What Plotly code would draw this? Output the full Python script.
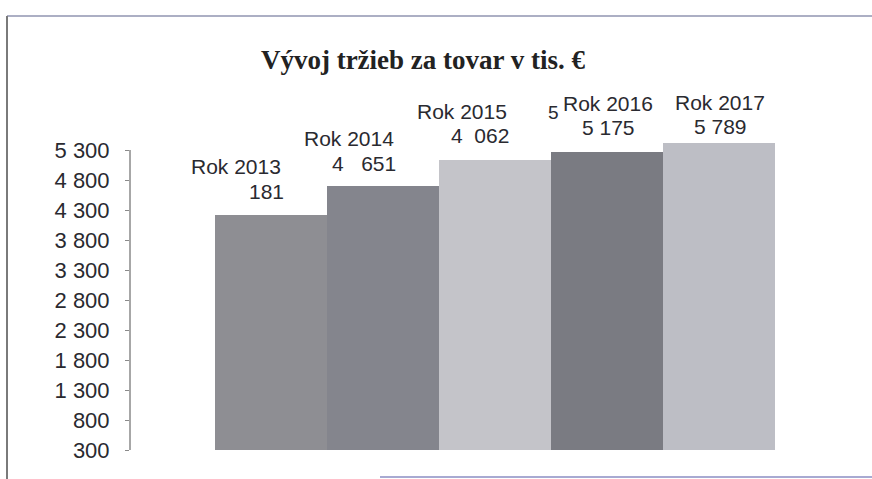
import plotly.graph_objects as go

# ---- data ----
years = ["Rok 2013", "Rok 2014", "Rok 2015", "Rok 2016", "Rok 2017"]
bar_values = [4215, 4700, 5135, 5265, 5415]          # heights as drawn
value_labels = ["181", "4   651", "4  062", "5 175", "5 789"]  # label text as printed
stray_digit = "5"                                    # stray scan digit near "Rok 2016"
axis_base = 300
tick_values = [300, 800, 1300, 1800, 2300, 2800, 3300, 3800, 4300, 4800, 5300]
tick_labels = ["300", "800", "1 300", "1 800", "2 300", "2 800", "3 300",
               "3 800", "4 300", "4 800", "5 300"]
title_text = "Vývoj tržieb za tovar v tis. €"

# ---- styling ----
bar_colors = ["#8e8e93", "#84858d", "#c4c4c9", "#7a7b82", "#bdbec5"]
year_dx = [-35, -34, -33, 1, 1]
year_dy = [49, 48, 48, 49, 41]
val_dx = [15, 15, 16, 1, 1]
val_dy = [24, 23, 24, 25, 17]
val_anchor = ["right", "right", "right", "center", "center"]
FONT = "Liberation Sans, Arial, sans-serif"
TXT = "#2a2a30"

OFF = 0  # body margin removed by post_script
W, H = 872, 479
L, R, T, B = 130, 72, 138, 23
plot_w = W - L - R
plot_h = H - T - B

def px_x(p):
    return (p - OFF - L) / plot_w

def px_y(p):
    return (H - B - (p - OFF)) / plot_h

xpos = list(range(len(years)))

fig = go.Figure()
fig.add_trace(go.Bar(
    x=xpos,
    y=[v - axis_base for v in bar_values],
    base=[axis_base] * len(years),
    width=1.0,
    marker=dict(color=bar_colors, line=dict(width=0)),
    hoverinfo="skip",
))

for i, (yr, lab, v) in enumerate(zip(years, value_labels, bar_values)):
    fig.add_annotation(
        x=xpos[i], y=v, xref="x", yref="y", text=yr, showarrow=False,
        xanchor="center", yanchor="middle",
        xshift=year_dx[i], yshift=year_dy[i],
        font=dict(family=FONT, size=21, color=TXT),
    )
    fig.add_annotation(
        x=xpos[i], y=v, xref="x", yref="y", text=lab, showarrow=False,
        xanchor=val_anchor[i], yanchor="middle",
        xshift=val_dx[i], yshift=val_dy[i],
        font=dict(family=FONT, size=21, color=TXT),
    )

fig.add_annotation(
    x=xpos[3], y=bar_values[3], xref="x", yref="y", text=stray_digit,
    showarrow=False, xanchor="right", yanchor="middle", xshift=-46, yshift=40,
    font=dict(family=FONT, size=19, color=TXT),
)

# y axis line drawn only between the first and last tick
fig.add_shape(type="line", xref="paper", yref="y", x0=0, x1=0,
              y0=tick_values[0], y1=tick_values[-1],
              line=dict(color="#8a8a8a", width=1.5))

# scanned frame
fig.add_shape(type="line", xref="paper", yref="paper",
              x0=px_x(7), x1=px_x(880), y0=px_y(16), y1=px_y(16),
              line=dict(color="#9094b0", width=1.5))
fig.add_shape(type="line", xref="paper", yref="paper",
              x0=px_x(7), x1=px_x(7), y0=px_y(16), y1=px_y(490),
              line=dict(color="#7a7a7a", width=2))
fig.add_shape(type="line", xref="paper", yref="paper",
              x0=px_x(380), x1=px_x(880), y0=px_y(477), y1=px_y(477),
              line=dict(color="#a8aad2", width=2))

fig.update_layout(
    width=W, height=H,
    margin=dict(l=L, r=R, t=T, b=B),
    paper_bgcolor="white", plot_bgcolor="white",
    showlegend=False,
    bargap=0,
    title=dict(text=f"<b>{title_text}</b>", x=(423 - OFF) / W, xanchor="center",
               y=1 - (60 - OFF) / H, yanchor="middle", xref="container", yref="container",
               font=dict(family="Liberation Serif, Times New Roman, serif",
                         size=27, color="#222222")),
    xaxis=dict(range=[-1.26, 4.72], visible=False, fixedrange=True),
    yaxis=dict(range=[200, 5500], tickvals=tick_values, ticktext=tick_labels,
               showgrid=False, zeroline=False, showline=False, fixedrange=True,
               ticks="outside", ticklen=4, tickcolor="#8a8a8a", tickwidth=1,
               ticklabelstandoff=11,
               tickfont=dict(family=FONT, size=22, color=TXT)),
)

fig.write_html(
    "out.html",
    config={"displayModeBar": False, "staticPlot": True},
    post_script="document.body.style.margin='0';document.body.style.overflow='hidden';",
)
